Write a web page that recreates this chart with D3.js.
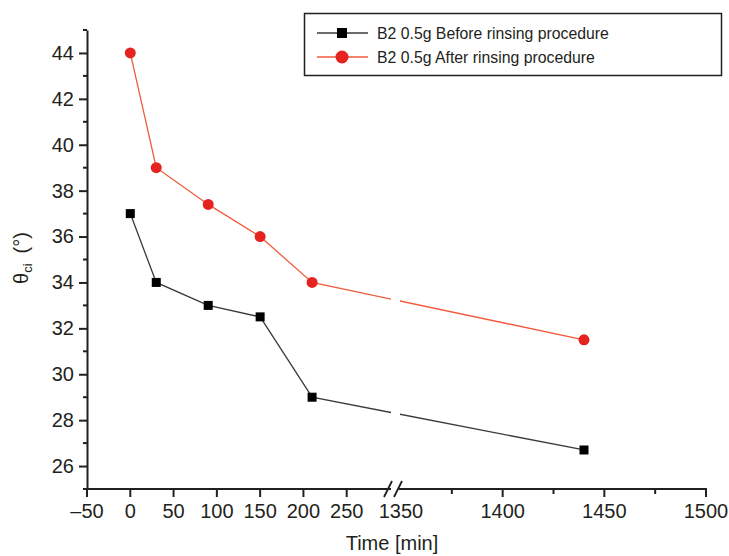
<!DOCTYPE html>
<html>
<head>
<meta charset="utf-8">
<script src="https://cdn.jsdelivr.net/npm/d3@7"></script>
<style>
  body { margin: 0; background: #fff; }
  text { font-family: "Liberation Sans", Arial, sans-serif; fill: #231f20; }
</style>
</head>
<body>
<svg id="chart" width="729" height="556"></svg>
<script>
// data
const times = [0, 30, 90, 150, 210, 1440];
const before = [37, 34, 33, 32.5, 29, 26.7];
const after = [44, 39, 37.4, 36, 34, 31.5];
const seriesNames = ["B2 0.5g Before rinsing procedure", "B2 0.5g After rinsing procedure"];
const yTicks = [26, 28, 30, 32, 34, 36, 38, 40, 42, 44];
const yMinor = [25, 27, 29, 31, 33, 35, 37, 39, 41, 43, 45];
const xTicksLeft = [-50, 0, 50, 100, 150, 200, 250];
const xTicksRight = [1350, 1400, 1450, 1500];
const xMinorRight = [1375, 1425, 1475];

const svg = d3.select("#chart");
const axisColor = "#231f20";
const redLine = "#f15a3a";
const redDot = "#e52421";

// broken x axis: two linear pieces
const xLeft = d3.scaleLinear().domain([-50, 300]).range([87, 390]);
const xRight = d3.scaleLinear().domain([1350, 1500]).range([401, 706]);
const x = v => v < 1000 ? xLeft(v) : xRight(v);
const y = d3.scaleLinear().domain([25, 45]).range([489, 30]);

const defs = svg.append("defs");
defs.append("clipPath").attr("id", "clipL")
  .append("rect").attr("x", 0).attr("y", 0).attr("width", 391).attr("height", 556);
defs.append("clipPath").attr("id", "clipR")
  .append("rect").attr("x", 400).attr("y", 0).attr("width", 329).attr("height", 556);

// axes
const yAxis = svg.append("g").attr("transform", "translate(87,0)");
yAxis.call(d3.axisLeft(y).tickValues(yTicks).tickSize(8).tickSizeOuter(0).tickPadding(5))
  .call(g => g.select(".domain").attr("stroke", axisColor).attr("stroke-width", 2))
  .call(g => g.selectAll(".tick line").attr("stroke", axisColor).attr("stroke-width", 2))
  .call(g => g.selectAll(".tick text").attr("font-size", 20).attr("fill", axisColor)
    .style("font-family", "Liberation Sans, Arial, sans-serif"));
yAxis.selectAll("line.minor").data(yMinor).enter().append("line")
  .attr("x1", -4).attr("x2", 0)
  .attr("y1", d => y(d)).attr("y2", d => y(d))
  .attr("stroke", axisColor).attr("stroke-width", 2);

const xAxis = svg.append("g").attr("transform", "translate(0,489)");
xAxis.append("line").attr("x1", 86).attr("x2", 707).attr("y1", 0).attr("y2", 0)
  .attr("stroke", axisColor).attr("stroke-width", 2);
const tickG = xAxis.selectAll("g.xtick")
  .data(xTicksLeft.map(v => ({v, major: true})).concat(xTicksRight.map(v => ({v, major: true})), xMinorRight.map(v => ({v, major: false}))))
  .enter().append("g").attr("class", "xtick").attr("transform", d => `translate(${x(d.v)},0)`);
tickG.filter(d => d.v !== 1350).append("line")
  .attr("y1", 0).attr("y2", d => d.major ? 8 : 5)
  .attr("stroke", axisColor).attr("stroke-width", 2);
tickG.filter(d => d.major).append("text")
  .attr("y", 29).attr("text-anchor", "middle").attr("font-size", 20)
  .text(d => d.v < 0 ? "\u2013" + Math.abs(d.v) : d.v);

// break marks
const brk = xAxis.append("g");
brk.append("rect").attr("x", 391).attr("y", -2).attr("width", 8).attr("height", 4).attr("fill", "#fff");
[388, 398].forEach(cx => {
  brk.append("line").attr("x1", cx - 4).attr("y1", 8).attr("x2", cx + 4).attr("y2", -8)
    .attr("stroke", axisColor).attr("stroke-width", 1.8);
});

// axis titles
svg.append("text").attr("x", 392).attr("y", 550).attr("text-anchor", "middle")
  .attr("font-size", 20).text("Time [min]");
const yl = svg.append("text").attr("transform", "translate(28,258) rotate(-90)")
  .attr("text-anchor", "middle").attr("font-size", 20);
yl.append("tspan").text("\u03B8");
yl.append("tspan").attr("font-size", 13).attr("dy", 4).text("ci");
yl.append("tspan").attr("dy", -4).text("\u2002(\u00B0)");

// lines
const line = d3.line().x(d => x(d[0])).y(d => y(d[1]));
const series = [
  {vals: before, stroke: "#3a3a3a", fill: "#000", shape: "square"},
  {vals: after, stroke: redLine, fill: redDot, shape: "circle"}
];
series.forEach(s => {
  const pts = times.map((t, i) => [t, s.vals[i]]);
  ["clipL", "clipR"].forEach(c => {
    svg.append("path").datum(pts).attr("clip-path", `url(#${c})`)
      .attr("d", line).attr("fill", "none").attr("stroke", s.stroke).attr("stroke-width", 1.3);
  });
  if (s.shape === "square") {
    svg.selectAll(null).data(pts).enter().append("rect")
      .attr("x", d => x(d[0]) - 4.5).attr("y", d => y(d[1]) - 4.5)
      .attr("width", 9).attr("height", 9).attr("fill", s.fill);
  } else {
    svg.selectAll(null).data(pts).enter().append("circle")
      .attr("cx", d => x(d[0])).attr("cy", d => y(d[1])).attr("r", 5.5).attr("fill", s.fill);
  }
});

// legend
const lg = svg.append("g");
lg.append("rect").attr("x", 304.5).attr("y", 13.5).attr("width", 417).attr("height", 62)
  .attr("fill", "#fff").attr("stroke", axisColor).attr("stroke-width", 1.5);
seriesNames.forEach((name, i) => {
  const s = series[i];
  const ly = 33 + i * 24;
  lg.append("line").attr("x1", 317).attr("x2", 368).attr("y1", ly).attr("y2", ly)
    .attr("stroke", s.stroke).attr("stroke-width", 1.3);
  if (s.shape === "square") {
    lg.append("rect").attr("x", 337).attr("y", ly - 5).attr("width", 10).attr("height", 10).attr("fill", s.fill);
  } else {
    lg.append("circle").attr("cx", 342).attr("cy", ly).attr("r", 6.5).attr("fill", s.fill);
  }
  lg.append("text").attr("x", 377).attr("y", ly + 5.5).attr("font-size", 15.8).text(name);
});
</script>
</body>
</html>
